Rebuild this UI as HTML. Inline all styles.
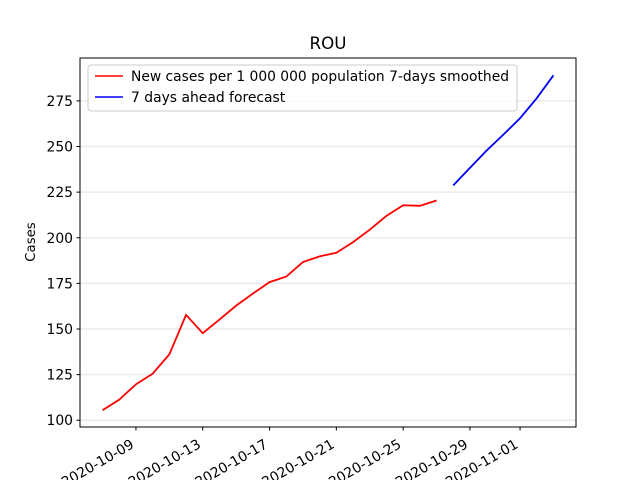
<!DOCTYPE html>
<html><head><meta charset="utf-8"><style>
body{margin:0;background:#fff;}
svg text{font-family:"DejaVu Sans","Liberation Sans",sans-serif;}
</style></head><body>
<svg id="chart" width="640" height="480" xmlns="http://www.w3.org/2000/svg">
<rect width="640" height="480" fill="#fff"/>
<g id="grid"></g>
<g id="lines"></g>
<rect x="80" y="58" width="496" height="369" fill="none" stroke="#000" stroke-width="1"/>
<g id="ticks"></g>
<text x="328" y="49" font-size="16.7" text-anchor="middle">ROU</text>
<text transform="translate(35,242) rotate(-90)" font-size="13.3" text-anchor="middle">Cases</text>
<g>
<rect x="88" y="65" width="429" height="46" rx="3" fill="#fff" fill-opacity="0.8" stroke="#ccc"/>
<line x1="95" y1="76" x2="123" y2="76" stroke="red" stroke-width="1.6"/>
<text x="131" y="81" font-size="13.9" textLength="378" lengthAdjust="spacingAndGlyphs">New cases per 1 000 000 population 7-days smoothed</text>
<line x1="95" y1="97" x2="123" y2="97" stroke="blue" stroke-width="1.6"/>
<text x="131" y="102" font-size="13.9">7 days ahead forecast</text>
</g>
</svg>
<script>
const actualValues=[105.5,111.3,119.7,125.5,136.1,157.7,147.7,155.2,162.8,169.4,175.7,178.7,186.7,189.8,191.8,197.6,204.4,212,217.8,217.5,220.4];
const forecastValues=[228.7,238.3,247.8,256.5,265.5,276.5,289];
const yTicks=[100,125,150,175,200,225,250,275];
const xTickDays=[2,6,10,14,18,22,25];
const xTickLabels=["2020-10-09","2020-10-13","2020-10-17","2020-10-21","2020-10-25","2020-10-29","2020-11-01"];
const L=80,R=576,T=58,B=427,x0=-1.35,x1=28.35,y0=96.3,y1=298.5;
const X=d=>L+(d-x0)/(x1-x0)*(R-L);
const Y=v=>B-(v-y0)/(y1-y0)*(B-T);
const NS="http://www.w3.org/2000/svg";
function mk(tag,attrs,parent){const e=document.createElementNS(NS,tag);for(const k in attrs)e.setAttribute(k,attrs[k]);document.getElementById(parent).appendChild(e);return e;}
yTicks.forEach(v=>{
 const g=mk('line',{x1:L,x2:R,y1:Y(v),y2:Y(v),stroke:'#ebebeb','stroke-width':1.5},'grid');
 
 
 const t=mk('line',{x1:L-3.5,x2:L,y1:Y(v),y2:Y(v),stroke:'#000'},'ticks');
 
 
 const l=mk('text',{x:L-7,y:Y(v)+5,'font-size':13.9,'text-anchor':'end'},'ticks');
 
 
 l.textContent=v;
});
xTickDays.forEach((d,i)=>{
 const t=mk('line',{x1:X(d),x2:X(d),y1:B,y2:B+3.5,stroke:'#000'},'ticks');
 
 
 const l=mk('text',{transform:`translate(${X(d)-1},${B+20}) rotate(-30)`,'font-size':13.9,'text-anchor':'end'},'ticks');
 
 
 l.textContent=xTickLabels[i];
});
const p1=mk('polyline',{points:actualValues.map((v,i)=>X(i)+','+Y(v)).join(' '),fill:'none',stroke:'red','stroke-width':1.8},'lines');


const off=actualValues.length;
const p2=mk('polyline',{points:forecastValues.map((v,i)=>X(i+off)+','+Y(v)).join(' '),fill:'none',stroke:'blue','stroke-width':1.8},'lines');


</script>
</body></html>
